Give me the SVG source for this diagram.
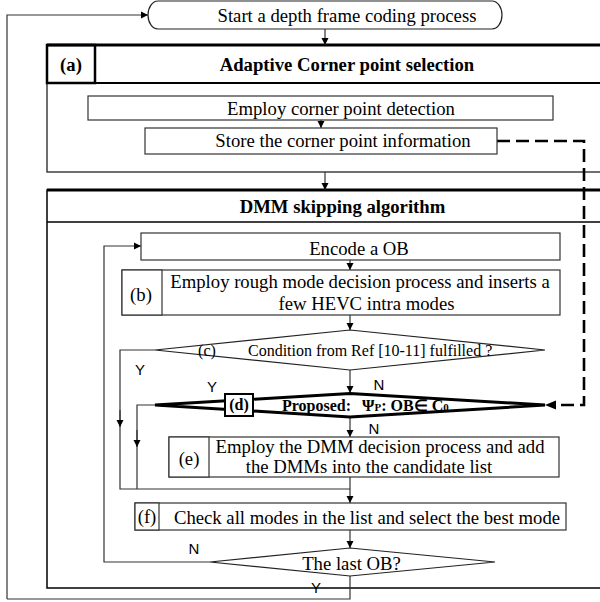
<svg xmlns="http://www.w3.org/2000/svg" width="600" height="602" viewBox="0 0 600 602">
<style>
 text{font-family:"Liberation Serif","Times New Roman",serif;font-size:18.7px;fill:#000}
 .b{font-weight:bold}
 .c{text-anchor:middle}
 .m{font-size:16px}
 .s{font-family:"Liberation Sans",Arial,sans-serif;font-size:15px}
 .box{fill:#fff;stroke:#333;stroke-width:1.2}
 .ln{fill:none;stroke:#333;stroke-width:1.2}
 .dash{fill:none;stroke:#000;stroke-width:2.6;stroke-dasharray:13 6}
</style>
<defs>
 <marker id="ah" viewBox="0 0 10 10" refX="10" refY="5" markerWidth="7" markerHeight="8" markerUnits="userSpaceOnUse" orient="auto"><path d="M0,0 L10,5 L0,10 z" fill="#000"/></marker>
</defs>
<rect width="600" height="602" fill="#fff"/>

<g id="container-a">
 <rect x="47" y="45" width="600" height="127" fill="none" stroke="#222" stroke-width="1.3"/>
 <path d="M47,45 H647" stroke="#000" stroke-width="3"/>
 <path d="M47,83 H647" stroke="#000" stroke-width="2"/>
 <rect x="47" y="45" width="48" height="38" fill="none" stroke="#000" stroke-width="2.5"/>
 <text class="b c" x="71" y="71">(a)</text>
 <text class="b c" x="347" y="71">Adaptive Corner point selection</text>
</g>

<g id="container-dmm">
 <rect x="47" y="190" width="600" height="398" fill="none" stroke="#000" stroke-width="1.5"/>
 <path d="M47,190 H647" stroke="#000" stroke-width="3"/>
 <path d="M47,222 H647" stroke="#000" stroke-width="1.5"/>
 <text class="b c" x="342.5" y="213">DMM skipping algorithm</text>
</g>

<g id="connectors">
 <path class="ln" d="M7,599 V15 H148" marker-end="url(#ah)"/>
 <path class="ln" d="M325,29 V45" marker-end="url(#ah)"/>
 <path class="ln" d="M321,120 V128" marker-end="url(#ah)"/>
 <path class="ln" d="M325,172 V190" marker-end="url(#ah)"/>
 <path class="dash" d="M497,141 H584 V405 H556"/>
 <path d="M545,405 L556,400.5 L556,409.5 z" fill="#000"/>
 <path class="ln" d="M350,260 V270" marker-end="url(#ah)"/>
 <path class="ln" d="M350,315 V330" marker-end="url(#ah)"/>
 <path class="ln" d="M350,370 V393" marker-end="url(#ah)"/>
 <path class="ln" d="M350,418 V437" marker-end="url(#ah)"/>
 <path class="ln" d="M155,350 H120 V489 H350"/>
 <path class="ln" d="M120,410 V427" marker-end="url(#ah)"/>
 <path class="ln" d="M155,405 H137 V489"/>
 <path class="ln" d="M137,430 V447" marker-end="url(#ah)"/>
 <path class="ln" d="M350,477 V503" marker-end="url(#ah)"/>
 <path class="ln" d="M350,530 V548" marker-end="url(#ah)"/>
 <path class="ln" d="M210,562 H104 V246 H141" marker-end="url(#ah)"/>
 <path class="ln" d="M350,576 V599 H7"/>
 <text class="s c" x="140" y="375">Y</text>
 <text class="s c" x="212" y="392">Y</text>
 <text class="s c" x="379" y="390">N</text>
 <text class="s c" x="374" y="434">N</text>
 <text class="s c" x="194" y="554">N</text>
 <text class="s c" x="316" y="593">Y</text>
</g>

<g id="start">
 <path d="M158,1 H492 A10,14 0 0 1 492,29 H158 A10,14 0 0 1 158,1 Z" fill="#fff" stroke="#222" stroke-width="1.2"/>
 <text class="c" x="347" y="22">Start a depth frame coding process</text>
</g>

<g id="detect">
 <rect class="box" x="88" y="96" width="465" height="24" stroke="#555"/>
 <text class="c" x="341" y="115">Employ corner point detection</text>
</g>

<g id="store">
 <rect class="box" x="145" y="128" width="352" height="26"/>
 <text class="c" x="343" y="147">Store the corner point information</text>
</g>

<g id="encode">
 <rect class="box" x="141" y="233" width="419" height="27"/>
 <text class="c" x="359" y="255">Encode a OB</text>
</g>

<g id="node-b">
 <rect class="box" x="122" y="270" width="438" height="45"/>
 <rect class="box" x="122" y="270" width="40" height="45"/>
 <text class="c" x="141" y="301">(b)</text>
 <text class="c" x="360" y="288">Employ rough mode decision process and inserts a</text>
 <text class="c" x="366.5" y="310">few HEVC intra modes</text>
</g>

<g id="node-c">
 <path d="M350,330 L545,350 L350,370 L155,350 Z" fill="#fff" stroke="#222" stroke-width="1.2"/>
 <text class="m c" x="207" y="356">(c)</text>
 <text class="m" x="248" y="356">Condition from Ref [10-11] fulfilled ?</text>
</g>

<g id="node-d">
 <path d="M350,393.5 L545,405 L350,417 L155,405 Z" fill="#fff" stroke="#000" stroke-width="3"/>
 <rect x="225" y="394" width="28" height="22" fill="#fff" stroke="#000" stroke-width="2"/>
 <text class="b m c" x="239" y="410">(d)</text>
 <text class="b m" x="282" y="411">Proposed:<tspan x="362">Ψ</tspan><tspan font-size="11">P</tspan>: OB∈ C<tspan font-size="11">0</tspan></text>
</g>

<g id="node-e">
 <rect class="box" x="169" y="437" width="390" height="40"/>
 <rect class="box" x="169" y="437" width="40" height="40"/>
 <text class="c" x="189" y="465">(e)</text>
 <text class="c" x="380" y="453">Employ the DMM decision process and add</text>
 <text class="c" x="369" y="473">the DMMs into the candidate list</text>
</g>

<g id="node-f">
 <rect class="box" x="135" y="503" width="431" height="27"/>
 <rect class="box" x="135" y="503" width="24" height="27"/>
 <text class="c" x="147" y="523">(f)</text>
 <text class="c" x="367" y="524">Check all modes in the list and select the best mode</text>
</g>

<g id="last-ob">
 <path d="M350,548 L495,562 L350,576 L210,562 Z" fill="#fff" stroke="#222" stroke-width="1.2"/>
 <text class="c" x="351.5" y="570">The last OB?</text>
</g>
</svg>
